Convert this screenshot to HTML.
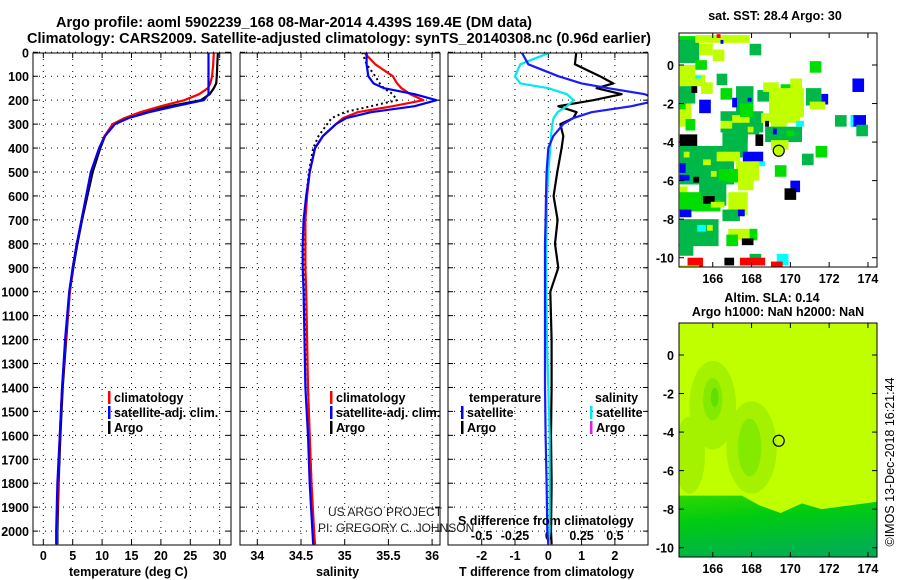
<!DOCTYPE html>
<html><head><meta charset="utf-8"><style>
html,body{margin:0;padding:0;background:#fff;}
svg{display:block;font-family:"Liberation Sans",Arial,sans-serif;}
.b{font-weight:bold;}
</style></head><body>
<svg id="fig" width="900" height="580" viewBox="0 0 900 580">
<text x="56" y="27" class="b" font-size="14.5" textLength="476">Argo profile: aoml 5902239_168 08-Mar-2014 4.439S 169.4E (DM data)</text>
<text x="27" y="43" class="b" font-size="14.5" textLength="624">Climatology: CARS2009. Satellite-adjusted climatology: synTS_20140308.nc (0.96d earlier)</text>
<g id="p1"></g>
<g id="p2"></g>
<g id="p3"></g>
<g id="m1"></g>
<g id="m2"></g>
<text x="775" y="20" class="b" font-size="12.5" text-anchor="middle">sat. SST: 28.4 Argo: 30</text>
<text x="772" y="302" class="b" font-size="12.5" text-anchor="middle">Altim. SLA: 0.14</text>
<text x="778" y="316" class="b" font-size="12.5" text-anchor="middle">Argo h1000: NaN h2000: NaN</text>
<text transform="translate(894,462) rotate(-90)" font-size="12.5" text-anchor="middle">©IMOS 13-Dec-2018 16:21:44</text>
<text x="328" y="516" font-size="12" fill="#222">US ARGO PROJECT</text>
<text x="318" y="532" font-size="12" fill="#222">PI: GREGORY C. JOHNSON</text>
</svg>
<script>
// ---------- profile data ----------
const depths = [0,50,100,130,150,175,200,225,250,275,300,350,400,500,600,700,800,900,1000,1200,1400,1600,1800,2000,2055];
const tempClim = [29.0,28.9,28.7,28.4,28.0,26.5,24.0,20.0,16.5,13.8,11.8,10.4,9.5,8.1,7.3,6.5,5.7,5.0,4.5,3.8,3.2,2.8,2.5,2.3,2.3];
const tempSat  = [28.1,28.1,28.1,28.1,28.1,28.1,27.3,22.5,18.0,14.5,12.2,10.5,9.5,8.1,7.3,6.5,5.7,5.0,4.4,3.7,3.2,2.8,2.4,2.2,2.2];
const tempArgo = [29.7,29.6,29.5,29.4,29.0,28.3,26.8,21.5,17.3,14.0,11.9,10.5,9.7,8.4,7.5,6.6,5.8,5.1,4.5,3.9,3.3,2.9,2.6,2.4,2.4];
const salClim = [35.22,35.35,35.55,35.6,35.65,35.75,35.9,35.55,35.15,34.98,34.9,34.75,34.66,34.6,34.57,34.55,34.55,34.55,34.56,34.57,34.58,34.6,34.62,34.65,34.66];
const salSat  = [35.25,35.25,35.27,35.33,35.45,35.8,36.05,35.8,35.3,35.02,34.9,34.75,34.66,34.6,34.56,34.53,34.52,34.52,34.53,34.54,34.55,34.58,34.6,34.63,34.64];
const salArgo = [35.2,35.25,35.35,35.4,35.45,35.55,35.6,35.3,35.0,34.85,34.8,34.7,34.64,34.59,34.56,34.54,34.54,34.54,34.55,34.56,34.58,34.6,34.62,34.64,34.65];
const tDiffSat  = [-0.8,-0.6,0.3,1.0,1.8,2.9,3.3,2.5,1.3,0.75,0.45,0.15,0.0,-0.05,-0.07,-0.08,-0.1,-0.1,-0.1,-0.1,-0.1,-0.08,-0.05,-0.03,0.0];
const tDiffArgo = [0.84,0.8,1.55,1.95,1.45,2.2,1.35,0.3,0.85,0.75,0.36,0.45,0.4,0.27,0.16,0.28,0.2,0.3,0.06,0.1,0.1,0.08,0.1,0.08,0.1];
const sDiffSat  = [0.015,-0.21,-0.25,-0.21,0.0,0.14,0.19,0.14,0.07,0.04,0.03,0.02,0.015,0.0,-0.01,-0.012,-0.015,-0.015,-0.015,-0.01,0.0,0.01,0.01,0.01,0.0];
const depthTicks = [0,100,200,300,400,500,600,700,800,900,1000,1100,1200,1300,1400,1500,1600,1700,1800,1900,2000];
const tempTicks = [0,5,10,15,20,25,30];
const salTicks = [34,34.5,35,35.5,36];
const salTickLabels = ["34","34.5","35","35.5","36"];
const tDiffTicks = [-2,-1,0,1,2];
const sDiffTicks = [-0.5,-0.25,0,0.25,0.5];
const sDiffTickLabels = ["-0.5","-0.25","0","0.25","0.5"];
// ---------- map data: [lon, latTop, widthDeg, heightDeg, colorKey] ----------
const sstCells = [
[164.3,1.5,0.9,0.3,'G'],[164.3,1.3,1.0,1.2,'M'],[165.1,1.55,2.8,0.4,'Y'],[165.3,1.1,0.7,0.6,'Y'],[166.0,0.8,0.6,0.6,'Y'],[167.9,1.1,0.6,0.6,'M'],
[166.2,1.6,0.2,0.2,'R'],[166.4,1.3,0.15,0.2,'B'],[164.3,0.0,0.8,0.55,'Y'],[165.1,0.25,0.6,0.5,'G'],[164.3,-0.5,1.3,0.6,'Y'],
[165.1,-0.55,0.3,0.15,'C'],[165.4,-0.9,0.6,0.6,'Y'],[166.2,-0.45,0.55,0.6,'M'],[164.3,-1.1,0.8,0.9,'M'],[164.9,-1.1,0.3,0.35,'K'],
[164.3,-2.0,0.6,1.2,'Y'],[164.6,-2.8,0.5,0.6,'G'],
[165.3,-1.8,0.6,0.7,'B'],[164.3,-2.0,0.3,0.3,'G'],[166.4,-1.2,0.6,0.6,'G'],[166.4,-2.4,2.2,1.1,'M'],[167.0,-2.6,0.9,0.5,'Y'],[168.5,-2.5,2.0,0.5,'Y'],
[167.2,-1.1,0.9,1.5,'M'],[167.0,-1.7,0.25,0.5,'B'],
[167.8,-1.7,0.2,0.2,'B'],[167.4,-2.0,0.7,0.7,'G'],[168.3,-1.3,1.4,0.6,'M'],[168.6,-0.9,0.8,0.5,'Y'],[169.5,-1.0,0.6,0.3,'G'],
[168.9,-1.2,1.8,1.5,'Y'],[170.0,-0.7,0.6,0.6,'Y'],[170.8,-1.2,0.8,0.9,'M'],[171.6,-1.5,0.35,0.55,'B'],[171.0,-1.9,0.8,0.4,'Y'],
[171.0,0.2,0.6,0.6,'G'],[173.2,-0.7,0.6,0.7,'B'],[172.3,-2.6,0.6,0.6,'M'],[173.1,-2.6,0.8,0.6,'B'],[173.1,-2.6,0.15,0.6,'C'],
[173.4,-3.1,0.6,0.6,'M'],[171.3,-4.2,0.6,0.6,'G'],[170.6,-4.6,0.6,0.6,'M'],[169.2,-5.2,0.6,0.6,'G'],[170.0,-6.0,0.5,0.6,'B'],
[169.7,-6.4,0.6,0.6,'K'],[169.0,-2.7,0.8,0.7,'Y'],[168.7,-3.2,1.9,0.8,'M'],[169.0,-3.9,0.9,0.5,'Y'],[167.0,-3.0,1.4,0.6,'M'],
[166.4,-2.9,0.6,0.4,'Y'],[166.5,-3.6,1.0,0.8,'G'],[167.6,-3.5,0.2,0.5,'K'],[168.2,-3.6,0.4,0.6,'K'],[166.5,-3.5,1.3,1.3,'M'],[167.55,-4.5,1.05,0.55,'B'],
[168.0,-5.0,0.7,0.25,'C'],[164.3,-3.6,0.9,0.65,'K'],[164.3,-4.2,2.8,2.0,'M'],[166.2,-4.5,1.2,0.5,'Y'],[167.2,-5.0,1.2,1.0,'Y'],
[166.3,-5.4,1.0,0.7,'G'],[167.3,-5.9,0.8,0.6,'Y'],
[164.3,-5.1,0.3,0.5,'B'],[164.3,-5.7,0.5,0.3,'B'],[165.0,-5.8,0.3,0.3,'K'],[164.3,-6.3,0.4,0.6,'Y'],[165.3,-6.0,1.4,1.3,'M'],
[164.3,-6.6,1.1,1.0,'G'],[165.3,-7.0,1.1,0.6,'G'],
[165.5,-6.8,0.6,0.4,'K'],[165.9,-7.1,0.7,0.3,'Y'],[166.8,-6.6,1.0,1.2,'Y'],[166.5,-7.5,0.9,0.6,'M'],[167.3,-7.5,0.35,0.35,'B'],
[164.3,-7.5,0.6,0.4,'B'],[164.3,-8.0,2.0,1.4,'M'],[165.2,-8.3,0.45,0.35,'C'],[166.8,-8.5,1.2,0.6,'Y'],[167.9,-8.5,0.4,0.6,'G'],
[167.5,-9.0,0.6,0.35,'K'],[166.7,-8.8,0.6,0.6,'G'],[169.3,-9.8,0.6,0.6,'C'],[167.9,-9.8,0.6,0.4,'M'],[164.7,-10.0,0.8,0.6,'R'],
[164.3,-10.4,1.0,0.15,'Y'],[167.4,-10.0,1.3,0.4,'R'],[169.0,-10.2,0.6,0.4,'R'],[166.6,-10.0,0.5,0.4,'K'],[164.3,-9.3,0.7,0.6,'M'],
[164.5,-4.5,0.3,0.3,'Y'],[165.5,-4.9,0.4,0.3,'Y'],[165.9,-5.5,0.3,0.3,'Y'],[164.8,-7.1,0.3,0.3,'G'],[165.7,-8.3,0.3,0.3,'Y'],
[167.8,-3.2,0.3,0.3,'Y'],[169.8,-3.4,0.4,0.3,'G'],[170.3,-2.9,0.4,0.3,'C'],[169.1,-3.3,0.2,0.3,'B'],[168.7,-2.9,0.2,0.3,'K']
];
const slaBlobs = [ // [lonCenter, latCenter, rxDeg, ryDeg, colorKey]
[166.0,-2.6,1.2,2.3,'L1'],[168.0,-4.8,1.3,2.4,'L1'],[164.8,-5.2,0.8,2.0,'L1'],[166.0,-2.3,0.5,1.1,'L2'],[167.9,-4.8,0.6,1.5,'L2'],[166.1,-2.2,0.2,0.5,'L3']
];
const profileLon = 169.4, profileLat = -4.45;
const lonTicks = [166,168,170,172,174];
const latTicks = [0,-2,-4,-6,-8,-10];

// ---------- helpers ----------
const NS = "http://www.w3.org/2000/svg";
function mk(parent, tag, attrs){ const e=document.createElementNS(NS,tag); for(const k in attrs) e.setAttribute(k,attrs[k]); parent.appendChild(e); return e; }
const Y0=52.3, PXM=0.2394, TOP=53, BOT=545;
const yD = d => Y0 + d*PXM;
function frame(g,x0,x1){
  const r=mk(g,'rect',{x:x0,y:TOP,width:x1-x0,height:BOT-TOP,fill:'none',stroke:'#000','stroke-width':1});
   
}
function hgrid(g,x0,x1,labels){
  depthTicks.forEach(d=>{
    const y=yD(d);
    const l=mk(g,'line',{x1:x0,x2:x1,y1:y,y2:y,stroke:'#000','stroke-dasharray':'1,5','stroke-width':1});
     
    mk(g,'line',{x1:x0,x2:x0+5,y1:y,y2:y,stroke:'#000'}); mk(g,'line',{x1:x1-5,x2:x1,y1:y,y2:y,stroke:'#000'});
    if(labels){
      const t=mk(g,'text',{x:x0-4,y:y+5,'text-anchor':'end','font-size':12.5,'font-weight':'bold'}); t.textContent=d;
       
    }
  });
}
function vgrid(g,ticks,labels,xf,ly){
  ticks.forEach((v,i)=>{
    const x=xf(v);
    const l=mk(g,'line',{x1:x,x2:x,y1:TOP,y2:BOT,stroke:'#000','stroke-dasharray':'1,5'});
     
    mk(g,'line',{x1:x,x2:x,y1:TOP,y2:TOP+5,stroke:'#000'}); mk(g,'line',{x1:x,x2:x,y1:BOT-5,y2:BOT,stroke:'#000'});
    const t=mk(g,'text',{x:x,y:ly,'text-anchor':'middle','font-size':12.5,'font-weight':'bold'}); t.textContent=labels[i];
     
  });
}
function line(g,vals,xf,color,name,dash,w){
  const pts=vals.map((v,i)=>xf(v).toFixed(1)+','+yD(depths[i]).toFixed(1)).join(' ');
  const p=mk(g,'polyline',{points:pts,fill:'none',stroke:color,'stroke-width':w||2.2,'stroke-linejoin':'round'});
  if(dash) p.setAttribute('stroke-dasharray',dash);
   
}
function text(g,x,y,s,name,opts){
  const t=mk(g,'text',Object.assign({x:x,y:y,'font-size':12.5,'font-weight':'bold'},opts||{})); t.textContent=s;
    return t;
}
function legend(g,x,y,color,label,name){
  const r=mk(g,'rect',{x:x,y:y-11,width:2.5,height:13,fill:color});
   
  text(g,x+6,y,label,name);
}
const defs=mk(document.getElementById('fig'),'defs',{});
[['c1',33,231],['c2',240,440],['c3',448,648]].forEach(c=>{const cp=mk(defs,'clipPath',{id:c[0]}); mk(cp,'rect',{x:c[1],y:TOP,width:c[2]-c[1],height:BOT-TOP});});

// ---------- panel 1 ----------
const p1=document.getElementById('p1');
const xT = v => 43.3 + v*5.88;
hgrid(p1,33,231,true); vgrid(p1,tempTicks,tempTicks.map(String),xT,560);
const g1=mk(p1,'g',{'clip-path':'url(#c1)'});
line(g1,tempArgo,xT,'#000','argo-temperature-line');
line(g1,tempClim,xT,'#f00','climatology-temperature-line');
line(g1,tempSat,xT,'#00f','satellite-temperature-line');
frame(p1,33,231);
text(p1,69,576,'temperature (deg C)','temperature-axis-title');
legend(p1,108,402,'#f00','climatology','legend-climatology');
legend(p1,108,417,'#00f','satellite-adj. clim.','legend-satellite');
legend(p1,108,432,'#000','Argo','legend-argo');

// ---------- panel 2 ----------
const p2=document.getElementById('p2');
const xS = v => 257.3 + (v-34)*87.4;
hgrid(p2,240,440,false); vgrid(p2,salTicks,salTickLabels,xS,560);
const g2=mk(p2,'g',{'clip-path':'url(#c2)'});
line(g2,salArgo,xS,'#000','argo-salinity-line','2,3',2);
line(g2,salClim,xS,'#f00','climatology-salinity-line');
line(g2,salSat,xS,'#00f','satellite-salinity-line');
frame(p2,240,440);
text(p2,316,576,'salinity','salinity-axis-title');
legend(p2,330,402,'#f00','climatology','legend-climatology-sal');
legend(p2,330,417,'#00f','satellite-adj. clim.','legend-satellite-sal');
legend(p2,330,432,'#000','Argo','legend-argo-sal');

// ---------- panel 3 ----------
const p3=document.getElementById('p3');
const xTD = v => 548.3 + v*33.3;
const xSD = v => 548.3 + v*133.2;
hgrid(p3,448,648,false); vgrid(p3,tDiffTicks,tDiffTicks.map(String),xTD,560);
sDiffTicks.forEach((v,i)=>{ text(p3,xSD(v),540,sDiffTickLabels[i],'s-diff-tick-label',{'text-anchor':'middle'}); });
const g3=mk(p3,'g',{'clip-path':'url(#c3)'});
line(g3,tDiffArgo,xTD,'#000','argo-t-difference-line');
line(g3,sDiffSat,xSD,'#00e8f0','satellite-s-difference-line');
line(g3,tDiffSat,xTD,'#1a1aff','satellite-t-difference-line');
frame(p3,448,648);
text(p3,458,525,'S difference from climatology','s-difference-axis-title');
text(p3,459,576,'T difference from climatology','t-difference-axis-title');
text(p3,469,402,'temperature','legend-temperature-heading');
text(p3,595,402,'salinity','legend-salinity-heading');
legend(p3,461,417,'#00f','satellite','legend-t-satellite');
legend(p3,461,432,'#000','Argo','legend-t-argo');
legend(p3,590,417,'#00e8f0','satellite','legend-s-satellite');
legend(p3,590,432,'#e020e0','Argo','legend-s-argo');

// ---------- maps ----------
const COL={Y:'#c0ff00',G:'#00dd00',M:'#00b848',B:'#0000ff',C:'#00ffff',K:'#000',R:'#ff0000',L1:'#a4f200',L2:'#84ea00',L3:'#60e000'};
const MX0=679, MX1=877, LON0=164.26, PXD=19.4, PYD=19.27;
const lonX = lon => MX0 + (lon-LON0)*PXD;
function mapAxes(g,top,bot,lat0y){
  const latY = lat => lat0y - lat*PYD;
  const r=mk(g,'rect',{x:MX0,y:top,width:MX1-MX0,height:bot-top,fill:'none',stroke:'#000'});
   
  lonTicks.forEach(l=>{ const x=lonX(l); mk(g,'line',{x1:x,x2:x,y1:bot,y2:bot-5,stroke:'#000'}); mk(g,'line',{x1:x,x2:x,y1:top,y2:top+5,stroke:'#000'});
    text(g,x,bot+16,String(l),'longitude-tick-label',{'text-anchor':'middle'}); });
  latTicks.forEach(l=>{ const y=latY(l); mk(g,'line',{x1:MX0,x2:MX0+5,y1:y,y2:y,stroke:'#000'}); mk(g,'line',{x1:MX1-5,x2:MX1,y1:y,y2:y,stroke:'#000'});
    text(g,MX0-5,y+5,String(l),'latitude-tick-label',{'text-anchor':'end'}); });
}
// map 1
const m1=document.getElementById('m1');
const M1TOP=33, M1BOT=267, LAT0Y1=65;
const cp1=mk(defs,'clipPath',{id:'mc1'}); mk(cp1,'rect',{x:MX0,y:M1TOP,width:MX1-MX0,height:M1BOT-M1TOP});
const mg1=mk(m1,'g',{'clip-path':'url(#mc1)'});
sstCells.forEach(c=>{
  const r=mk(mg1,'rect',{x:lonX(c[0]),y:LAT0Y1-c[1]*PYD,width:c[2]*PXD,height:c[3]*PYD,fill:COL[c[4]]});
   
});
const pc1=mk(m1,'circle',{cx:lonX(profileLon),cy:LAT0Y1-profileLat*PYD,r:5.5,fill:'#c0ff00',stroke:'#000','stroke-width':1.2});
 
mapAxes(m1,M1TOP,M1BOT,LAT0Y1);
// map 2
const m2=document.getElementById('m2');
const M2TOP=323, M2BOT=557, LAT0Y2=355;
const cp2=mk(defs,'clipPath',{id:'mc2'}); mk(cp2,'rect',{x:MX0,y:M2TOP,width:MX1-MX0,height:M2BOT-M2TOP});
const mg2=mk(m2,'g',{'clip-path':'url(#mc2)'});
const lg=mk(defs,'linearGradient',{id:'sg',x1:0,y1:0,x2:0.3,y2:1});
mk(lg,'stop',{offset:'0','stop-color':'#30d800'}); mk(lg,'stop',{offset:'0.4','stop-color':'#00cc10'}); mk(lg,'stop',{offset:'1','stop-color':'#00b050'});
mk(mg2,'rect',{x:MX0,y:M2TOP,width:MX1-MX0,height:M2BOT-M2TOP,fill:'#c0ff00'});
slaBlobs.forEach(b=>{
  const e=mk(mg2,'ellipse',{cx:lonX(b[0]),cy:LAT0Y2-b[1]*PYD,rx:b[2]*PXD,ry:b[3]*PYD,fill:COL[b[4]]});
   
});
const ly = lat => LAT0Y2 - lat*PYD;
const southPts=[[164.2,-7.3],[167.5,-7.3],[168.4,-7.8],[169.5,-8.2],[170.6,-7.7],[171.6,-8.0],[174.6,-7.6],[174.6,-10.6],[164.2,-10.6]];
const sp=mk(mg2,'polygon',{points:southPts.map(p=>lonX(p[0])+','+ly(p[1])).join(' '),fill:'url(#sg)'});
 
const pc2=mk(m2,'circle',{cx:lonX(profileLon),cy:LAT0Y2-profileLat*PYD,r:5.5,fill:'none',stroke:'#000','stroke-width':1.2});
 
mapAxes(m2,M2TOP,M2BOT,LAT0Y2);
</script>
</body></html>
